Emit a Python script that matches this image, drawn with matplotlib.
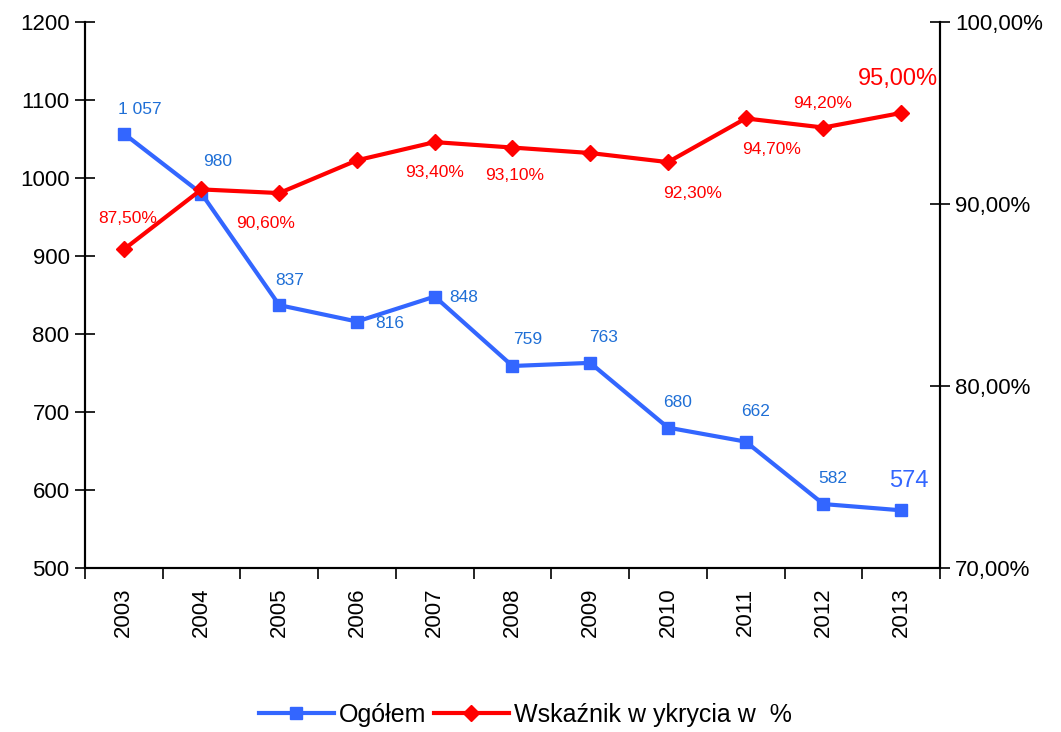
import matplotlib.pyplot as plt
from matplotlib.ticker import FuncFormatter

plt.rcParams["font.family"] = ["Liberation Sans", "DejaVu Sans"]

# Data
years = ["2003", "2004", "2005", "2006", "2007", "2008", "2009", "2010", "2011", "2012", "2013"]
ogolem = [1057, 980, 837, 816, 848, 759, 763, 680, 662, 582, 574]
wskaznik = [87.5, 90.8, 90.6, 92.4, 93.4, 93.1, 92.8, 92.3, 94.7, 94.2, 95.0]

BLUE = "#3366FF"
BLUE_TXT = "#1F6FD6"
RED = "#FF0000"

# label offsets in pixels (None = no label)
blue_off = [(16, 24), (16, 32), (10, 25), (33, -2), (29, -1), (15, 26), (13, 25), (10, 25), (10, 30), (9, 26), (8, 29)]
red_off = [(4, 31), None, (-14, -30), None, (0, -30), (2, -28), None, (25, -31), (26, -31), (-1, 24), (-3, 34)]

fig = plt.figure(figsize=(10.61, 7.32), dpi=100)
ax = fig.add_axes([0.080, 0.224, 0.806, 0.746])
ax2 = ax.twinx()

x = list(range(len(years)))
ax.plot(x, ogolem, color=BLUE, lw=3, marker="s", ms=9, label="Ogółem")
ax2.plot(x, wskaznik, color=RED, lw=3, marker="D", ms=8, label="Wskaźnik w ykrycia w  %")

for i, (v, off) in enumerate(zip(ogolem, blue_off)):
    txt = f"{v:,}".replace(",", " ")
    last = i == len(ogolem) - 1
    ax.annotate(txt, (i, v), xytext=off, textcoords="offset pixels",
                ha="center", va="center", fontsize=17 if last else 12.5,
                color=BLUE if last else BLUE_TXT)

for i, (v, off) in enumerate(zip(wskaznik, red_off)):
    if off is None:
        continue
    last = i == len(wskaznik) - 1
    ax2.annotate(f"{v:.2f}%".replace(".", ","), (i, v), xytext=off, textcoords="offset pixels",
                 ha="center", va="center", fontsize=17 if last else 12.5, color=RED)

ax.set_xlim(-0.5, len(years) - 0.5)
ax.set_ylim(500, 1200)
ax.set_yticks(range(500, 1201, 100))
ax2.set_ylim(70, 100)
ax2.set_yticks([70, 80, 90, 100])
ax2.yaxis.set_major_formatter(FuncFormatter(lambda v, p: f"{v:.2f}%".replace(".", ",")))

ax.set_xticks([i + 0.5 for i in range(-1, len(years))])
ax.set_xticklabels([])
ax.set_xticks(x, minor=True)
ax.set_xticklabels(years, minor=True, rotation=90)
ax.tick_params(axis="x", which="major", direction="out", length=8, width=1.2)
ax.tick_params(axis="x", which="minor", length=0, labelsize=16, pad=14)
ax.tick_params(axis="y", direction="inout", length=14, width=1.2, labelsize=16, pad=4)
ax2.tick_params(axis="y", direction="inout", length=14, width=1.2, labelsize=16, pad=4)

for a in (ax, ax2):
    a.spines["top"].set_visible(False)
    for s in ("left", "right", "bottom"):
        a.spines[s].set_linewidth(1.5)

h1, l1 = ax.get_legend_handles_labels()
h2, l2 = ax2.get_legend_handles_labels()
fig.legend(h1 + h2, l1 + l2, loc="center", bbox_to_anchor=(0.495, 0.023), ncol=2,
           frameon=False, fontsize=18, handlelength=3.0, columnspacing=0.3,
           handletextpad=0.2)

plt.savefig("out.png", dpi=100, facecolor="white")
plt.close()
